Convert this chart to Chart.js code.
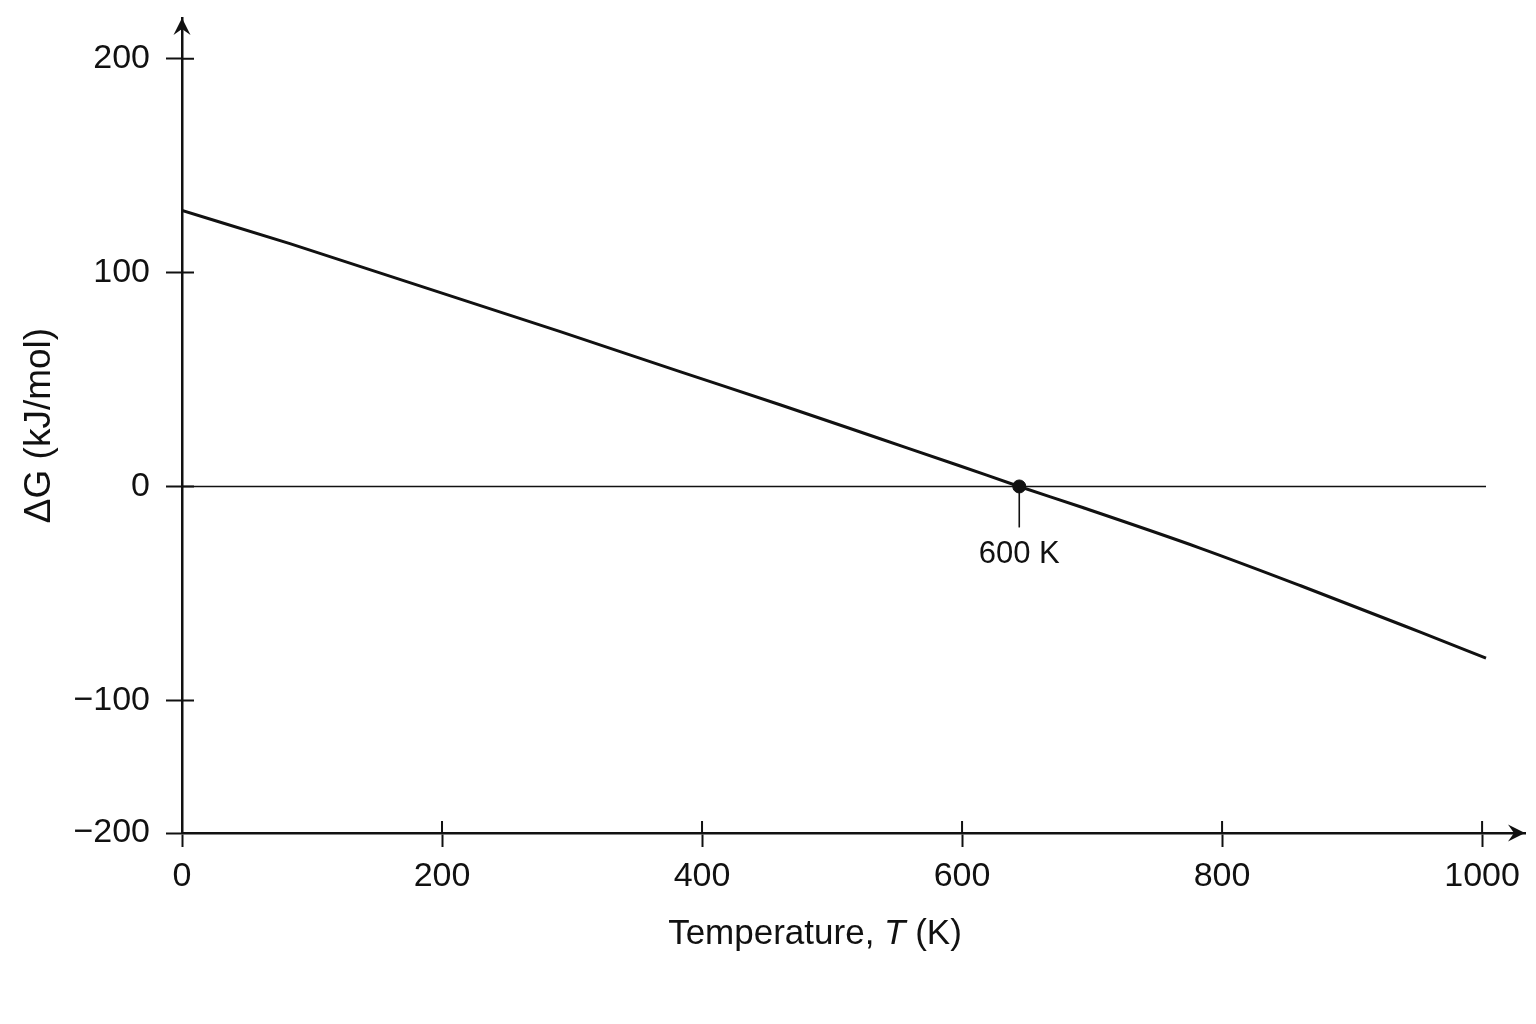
<!DOCTYPE html>
<html>
<head>
<meta charset="utf-8">
<title>ΔG vs temperature</title>
<script src="https://cdn.jsdelivr.net/npm/chart.js@4.4.1/dist/chart.umd.min.js"></script>
<style>
  html, body { margin: 0; padding: 0; background: #fff; }
  #wrap { width: 1536px; height: 1024px; }
</style>
</head>
<body>
<div id="wrap"><canvas id="gibbsChart"></canvas></div>
<script>
// values
const temperatures = [0, 83, 291, 383, 460, 537, 598, 644, 691, 783, 860, 952, 1003];
const deltaG = [129, 113.5, 72.4, 53.7, 38.2, 22.3, 9.7, 0, -9.5, -28.8, -46.3, -68, -80.2];
const crossingT = [644];
const crossingG = [0];
const crossingLabel = "600 K";
const xTicks = [0, 200, 400, 600, 800, 1000];
const yTicks = [200, 100, 0, -100, -200];

const FONT = '"Liberation Sans", Arial, sans-serif';
const INK = "#111";

// the figure squeezes the stretch of the y axis below -100
const FOLD_AT = -100;
const FOLD_RATIO = 0.62;

class FoldedScale extends Chart.LinearScale {
    static id = "folded";
    static defaults = Chart.LinearScale.defaults;

    fold(v) { return v >= FOLD_AT ? v : FOLD_AT + (v - FOLD_AT) * FOLD_RATIO; }
    unfold(u) { return u >= FOLD_AT ? u : FOLD_AT + (u - FOLD_AT) / FOLD_RATIO; }

    getPixelForValue(value) {
        if (value === null || value === undefined || isNaN(value)) return NaN;
        const lo = this.fold(this.min), hi = this.fold(this.max);
        return this.getPixelForDecimal((this.fold(value) - lo) / (hi - lo));
    }

    getValueForPixel(pixel) {
        const lo = this.fold(this.min), hi = this.fold(this.max);
        return this.unfold(lo + this.getDecimalForPixel(pixel) * (hi - lo));
    }
}
Chart.register(FoldedScale);

function minus(v) {
    return v < 0 ? "\u2212" + Math.abs(v) : String(v);
}

// axis arrows, tick stubs inside the plot, the 600 K marker and the x title
const decorations = {
    id: "decorations",
    afterDraw(chart) {
        const ctx = chart.ctx;
        const x = chart.scales.x, y = chart.scales.y;
        const area = chart.chartArea;
        ctx.save();
        ctx.strokeStyle = INK;
        ctx.fillStyle = INK;

        // inner halves of the tick marks
        ctx.lineWidth = 2;
        ctx.beginPath();
        yTicks.forEach(v => {
            const py = y.getPixelForValue(v);
            ctx.moveTo(area.left, py);
            ctx.lineTo(area.left + 12, py);
        });
        xTicks.forEach(v => {
            const px = x.getPixelForValue(v);
            ctx.moveTo(px, area.bottom);
            ctx.lineTo(px, area.bottom - 12);
        });
        ctx.stroke();

        // arrow heads
        function arrow(tx, ty, angle) {
            ctx.save();
            ctx.translate(tx, ty);
            ctx.rotate(angle);
            ctx.beginPath();
            ctx.moveTo(0, 0);
            ctx.lineTo(-17, -8.5);
            ctx.lineTo(-11, 0);
            ctx.lineTo(-17, 8.5);
            ctx.closePath();
            ctx.fill();
            ctx.restore();
        }
        arrow(area.left, area.top, -Math.PI / 2);
        arrow(area.right, area.bottom, 0);

        // leader and label under the crossing point
        const cx = x.getPixelForValue(crossingT[0]);
        const cy = y.getPixelForValue(crossingG[0]);
        ctx.lineWidth = 1.6;
        ctx.beginPath();
        ctx.moveTo(cx, cy);
        ctx.lineTo(cx, cy + 41);
        ctx.stroke();
        ctx.font = "31px " + FONT;
        ctx.textAlign = "center";
        ctx.textBaseline = "alphabetic";
        ctx.fillText(crossingLabel, cx, cy + 77);

        // x title with italic T
        const parts = [
            { text: "Temperature, ", font: "35px " + FONT },
            { text: "T", font: "italic 35px " + FONT },
            { text: " (K)", font: "35px " + FONT }
        ];
        let total = 0;
        parts.forEach(p => { ctx.font = p.font; p.w = ctx.measureText(p.text).width; total += p.w; });
        let tx = 815 - total / 2;
        ctx.textAlign = "left";
        parts.forEach(p => {
            ctx.font = p.font;
            ctx.fillText(p.text, tx, 944);
            tx += p.w;
        });
        ctx.restore();
    }
};

const curvePoints = temperatures.map((t, i) => ({ x: t, y: deltaG[i] }));
const zeroLine = [
    { x: 0, y: 0 },
    { x: temperatures[temperatures.length - 1], y: 0 }
];
const crossingPoints = crossingT.map((t, i) => ({ x: t, y: crossingG[i] }));

const ctx = document.getElementById("gibbsChart").getContext("2d");
new Chart(ctx, {
    type: "scatter",
    data: {
        datasets: [
            {
                label: "ΔG = 0",
                data: zeroLine,
                showLine: true,
                borderColor: INK,
                borderWidth: 1.6,
                pointRadius: 0,
                order: 3
            },
            {
                label: "ΔG",
                data: curvePoints,
                showLine: true,
                borderColor: INK,
                borderWidth: 3,
                cubicInterpolationMode: "monotone",
                pointRadius: 0,
                order: 2
            },
            {
                label: "crossing",
                data: crossingPoints,
                backgroundColor: INK,
                borderColor: INK,
                pointRadius: 6.5,
                order: 1
            }
        ]
    },
    options: {
        responsive: true,
        maintainAspectRatio: false,
        animation: false,
        layout: { padding: { top: 18, right: 11, left: 0, bottom: 0 } },
        plugins: {
            legend: { display: false },
            tooltip: { enabled: false }
        },
        scales: {
            x: {
                type: "linear",
                min: 0,
                max: 1033,
                afterBuildTicks: scale => { scale.ticks = xTicks.map(v => ({ value: v })); },
                afterFit: scale => {
                    scale.height = 191;
                    scale.paddingLeft = 0;
                    scale.paddingRight = 0;
                },
                border: { display: true, color: INK, width: 2.5 },
                grid: { drawOnChartArea: false, drawTicks: true, tickLength: 14, tickWidth: 2, tickColor: INK },
                ticks: {
                    autoSkip: false,
                    maxRotation: 0,
                    padding: 9,
                    color: INK,
                    font: { family: FONT, size: 34 },
                    callback: v => String(v)
                }
            },
            y: {
                type: "folded",
                min: -200,
                max: 219,
                afterBuildTicks: scale => { scale.ticks = yTicks.map(v => ({ value: v })); },
                afterFit: scale => {
                    scale.width = 182;
                    scale.paddingTop = 0;
                    scale.paddingBottom = 0;
                },
                border: { display: true, color: INK, width: 2.5 },
                grid: { drawOnChartArea: false, drawTicks: true, tickLength: 16, tickWidth: 2, tickColor: INK },
                ticks: {
                    autoSkip: false,
                    padding: 16,
                    color: INK,
                    font: { family: FONT, size: 34 },
                    callback: v => minus(v)
                },
                title: {
                    display: true,
                    text: "ΔG (kJ/mol)",
                    color: INK,
                    font: { family: FONT, size: 37 },
                    padding: { top: 18, bottom: 0 }
                }
            }
        }
    },
    plugins: [decorations]
});
</script>
</body>
</html>
